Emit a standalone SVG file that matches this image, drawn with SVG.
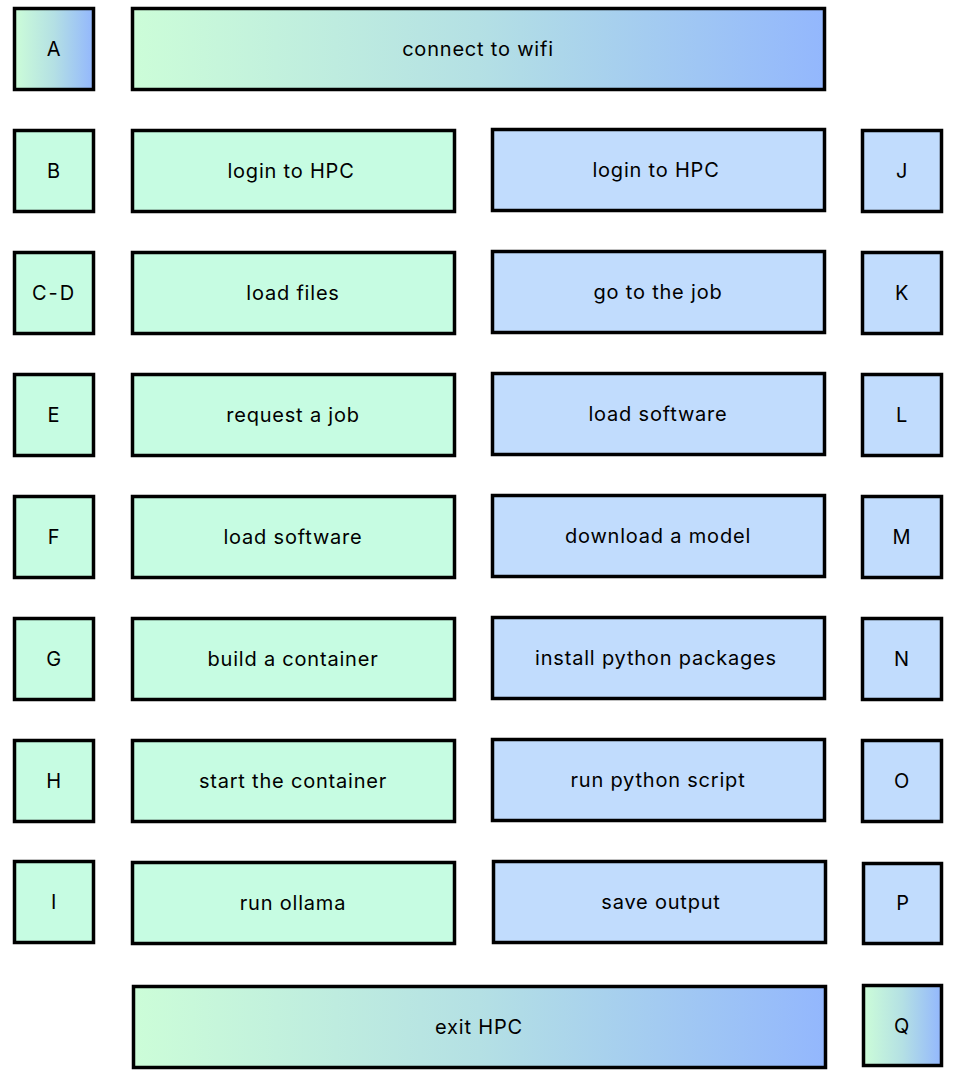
<svg xmlns="http://www.w3.org/2000/svg" width="959" height="1073" viewBox="0 0 959 1073">
<defs>
<linearGradient id="grad" x1="0" y1="0" x2="1" y2="0">
<stop offset="0" stop-color="#ccfdd8"/>
<stop offset="0.5" stop-color="#b4e0e4"/>
<stop offset="1" stop-color="#93b7fd"/>
</linearGradient>
<style>
rect{stroke:#000;stroke-width:3.5}
.g{fill:#c6fce2}
.b{fill:#c1dcfd}
.x{fill:url(#grad)}
text{font-family:Inter,"Liberation Sans",sans-serif;font-size:20px;letter-spacing:0.8px;fill:#000;text-anchor:middle;dominant-baseline:central}
</style>
</defs>
<rect width="959" height="1073" fill="#fff" style="stroke:none"/>
<g id="nA"><rect class="x" x="14.5" y="8.5" width="79" height="81"/><text x="54" y="49">A</text></g>
<g id="nWifi"><rect class="x" x="132.5" y="8.5" width="692" height="81"/><text x="478" y="49">connect to wifi</text></g>

<g id="nB"><rect class="g" x="14.5" y="130.5" width="79" height="81"/><text x="54" y="171">B</text></g>
<g id="nB1"><rect class="g" x="132.5" y="130.5" width="322" height="81"/><text x="291" y="171">login to HPC</text></g>
<g id="nJ1"><rect class="b" x="492.5" y="129.5" width="332" height="81"/><text x="656" y="170">login to HPC</text></g>
<g id="nJ"><rect class="b" x="862.5" y="130.5" width="79" height="81"/><text x="902" y="171">J</text></g>

<g id="nCD"><rect class="g" x="14.5" y="252.5" width="79" height="81"/><text x="54" y="293" style="letter-spacing:2px">C-D</text></g>
<g id="nCD1"><rect class="g" x="132.5" y="252.5" width="322" height="81"/><text x="293" y="293">load files</text></g>
<g id="nK1"><rect class="b" x="492.5" y="251.5" width="332" height="81"/><text x="658" y="292">go to the job</text></g>
<g id="nK"><rect class="b" x="862.5" y="252.5" width="79" height="81"/><text x="902" y="293">K</text></g>

<g id="nE"><rect class="g" x="14.5" y="374.5" width="79" height="81"/><text x="54" y="415">E</text></g>
<g id="nE1"><rect class="g" x="132.5" y="374.5" width="322" height="81"/><text x="293" y="415">request a job</text></g>
<g id="nL1"><rect class="b" x="492.5" y="373.5" width="332" height="81"/><text x="658" y="414">load software</text></g>
<g id="nL"><rect class="b" x="862.5" y="374.5" width="79" height="81"/><text x="902" y="415">L</text></g>

<g id="nF"><rect class="g" x="14.5" y="496.5" width="79" height="81"/><text x="54" y="537">F</text></g>
<g id="nF1"><rect class="g" x="132.5" y="496.5" width="322" height="81"/><text x="293" y="537">load software</text></g>
<g id="nM1"><rect class="b" x="492.5" y="495.5" width="332" height="81"/><text x="658" y="536">download a model</text></g>
<g id="nM"><rect class="b" x="862.5" y="496.5" width="79" height="81"/><text x="902" y="537">M</text></g>

<g id="nG"><rect class="g" x="14.5" y="618.5" width="79" height="81"/><text x="54" y="659">G</text></g>
<g id="nG1"><rect class="g" x="132.5" y="618.5" width="322" height="81"/><text x="293" y="659">build a container</text></g>
<g id="nN1"><rect class="b" x="492.5" y="617.5" width="332" height="81"/><text x="656" y="658">install python packages</text></g>
<g id="nN"><rect class="b" x="862.5" y="618.5" width="79" height="81"/><text x="902" y="659">N</text></g>

<g id="nH"><rect class="g" x="14.5" y="740.5" width="79" height="81"/><text x="54" y="781">H</text></g>
<g id="nH1"><rect class="g" x="132.5" y="740.5" width="322" height="81"/><text x="293" y="781">start the container</text></g>
<g id="nO1"><rect class="b" x="492.5" y="739.5" width="332" height="81"/><text x="658" y="780">run python script</text></g>
<g id="nO"><rect class="b" x="862.5" y="740.5" width="79" height="81"/><text x="902" y="781">O</text></g>

<g id="nI"><rect class="g" x="14.5" y="861.5" width="79" height="81"/><text x="54" y="902">I</text></g>
<g id="nI1"><rect class="g" x="132.5" y="862.5" width="322" height="81"/><text x="293" y="903">run ollama</text></g>
<g id="nP1"><rect class="b" x="493.5" y="861.5" width="332" height="81"/><text x="661" y="902">save output</text></g>
<g id="nP"><rect class="b" x="863.5" y="863.5" width="78" height="80"/><text x="903" y="903">P</text></g>

<g id="nExit"><rect class="x" x="133.5" y="986.5" width="692" height="81"/><text x="479" y="1027">exit HPC</text></g>
<g id="nQ"><rect class="x" x="863.5" y="985.5" width="78" height="80"/><text x="902" y="1026">Q</text></g>
<g id="connectors"></g>
</svg>
